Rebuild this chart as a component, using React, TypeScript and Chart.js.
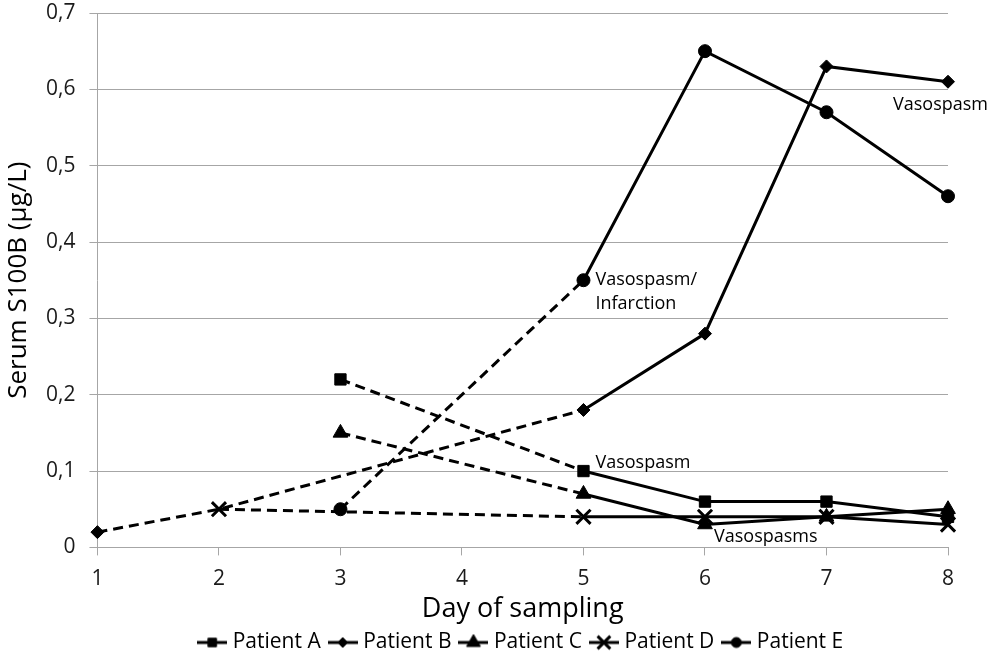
import { useEffect, useRef } from 'react'
import { Chart, registerables } from 'chart.js'
import { drawPoint } from 'chart.js/helpers'

Chart.register(...registerables)

const days = ['1', '2', '3', '4', '5', '6', '7', '8']
const patientA = [null, null, 0.22, null, 0.1, 0.06, 0.06, 0.04]
const patientB = [0.02, 0.05, null, null, 0.18, 0.28, 0.63, 0.61]
const patientC = [null, null, 0.15, null, 0.07, 0.03, 0.04, 0.05]
const patientD = [null, 0.05, null, null, 0.04, 0.04, 0.04, 0.03]
const patientE = [null, null, 0.05, null, 0.35, 0.65, 0.57, 0.46]
const patientNames = ['Patient A', 'Patient B', 'Patient C', 'Patient D', 'Patient E']
const series = [patientA, patientB, patientC, patientD, patientE]

// first day that is joined by a solid line
const solidFromDay = '5'

// clinical notes next to points
const notes = [
  { patient: 1, day: '8', lines: ['Vasospasm'] },
  { patient: 4, day: '5', lines: ['Vasospasm/', 'Infarction'] },
  { patient: 0, day: '5', lines: ['Vasospasm'] },
  { patient: 2, day: '6', lines: ['Vasospasms'] },
]

const FONT = '"Open Sans", sans-serif'
const markers = [
  { style: 'rect', radius: 8, border: 1, legendRadius: 6 },
  { style: 'rectRot', radius: 6.5, border: 1, legendRadius: 5 },
  { style: 'triangle', radius: 8.5, border: 1, legendRadius: 8 },
  { style: 'crossRot', radius: 10, border: 3, legendRadius: 9 },
  { style: 'circle', radius: 6.5, border: 1, legendRadius: 5 },
]
// label offsets from the anchor point, same order as notes
const noteOffsets = [
  { dx: -55, dy: 23 },
  { dx: 12, dy: 0 },
  { dx: 12, dy: -8 },
  { dx: 9, dy: 12 },
]

const fmt = (v: number) => (v === 0 ? '0' : v.toFixed(1).replace('.', ','))

function legendIcon(i: number) {
  const c = document.createElement('canvas')
  c.width = 30
  c.height = 20
  const g = c.getContext('2d')!
  g.strokeStyle = '#000'
  g.fillStyle = '#000'
  g.lineWidth = 3
  g.beginPath()
  g.moveTo(0, 10)
  g.lineTo(30, 10)
  g.stroke()
  const m = markers[i]
  g.lineWidth = m.border
  drawPoint(g, { pointStyle: m.style as any, radius: m.legendRadius, borderWidth: m.border, rotation: 0 }, 15, 10)
  return c
}

const notesPlugin = {
  id: 'notes',
  afterDatasetsDraw(chart: Chart) {
    const { ctx } = chart
    const x = chart.scales.x
    const y = chart.scales.y
    ctx.save()
    ctx.font = `18px ${FONT}`
    ctx.fillStyle = '#000'
    ctx.textBaseline = 'middle'
    ctx.textAlign = 'left'
    notes.forEach((n, k) => {
      const i = days.indexOf(n.day)
      const v = series[n.patient][i] as number
      const px = x.getPixelForValue(i)
      const py = y.getPixelForValue(v)
      const off = noteOffsets[k]
      n.lines.forEach((t, j) => ctx.fillText(t, px + off.dx, py + off.dy + j * 24))
    })
    ctx.restore()
  },
}

export default function App() {
  const canvasRef = useRef<HTMLCanvasElement>(null)
  const chartRef = useRef<Chart | null>(null)

  useEffect(() => {
    document.body.style.margin = '0'
    if (!canvasRef.current) return
    if (chartRef.current) chartRef.current.destroy()

    const solidIdx = days.indexOf(solidFromDay)
    const icons = patientNames.map((_, i) => legendIcon(i))

    chartRef.current = new Chart(canvasRef.current, {
      type: 'line',
      data: {
        labels: days,
        datasets: series.map((data, i) => ({
          label: patientNames[i],
          data,
          borderColor: '#000',
          backgroundColor: '#000',
          borderWidth: 3,
          spanGaps: true,
          tension: 0,
          fill: false,
          pointStyle: markers[i].style as any,
          pointRadius: (ctx: any) => (i === 1 && ctx.dataIndex === 1 ? 0 : markers[i].radius),
          pointBorderWidth: markers[i].border,
          pointBorderColor: '#000',
          pointBackgroundColor: '#000',
          segment: {
            borderDash: (ctx: any) => (ctx.p1DataIndex <= solidIdx ? [10, 6] : undefined),
          },
        })),
      },
      plugins: [notesPlugin],
      options: {
        responsive: true,
        maintainAspectRatio: false,
        animation: false,
        layout: { padding: { top: 13, right: 44, left: 2, bottom: -6 } },
        plugins: {
          tooltip: { enabled: false },
          legend: {
            position: 'bottom',
            fullSize: false,
            labels: {
              usePointStyle: true,
              pointStyleWidth: 20,
              padding: 12,
              color: '#000',
              font: { size: 21, family: FONT },
              generateLabels: () =>
                patientNames.map((name, i) => ({
                  text: name,
                  pointStyle: icons[i],
                  fillStyle: '#000',
                  strokeStyle: '#000',
                  lineWidth: 0,
                  hidden: false,
                  datasetIndex: i,
                })),
            },
          },
        },
        scales: {
          x: {
            grid: { drawOnChartArea: false, drawTicks: true, tickLength: 8, color: '#a6a6a6' },
            border: { display: true, color: '#a6a6a6' },
            ticks: { color: '#1a1a1a', font: { size: 21, family: FONT, lineHeight: 1 }, padding: 13 },
            title: {
              display: true,
              text: 'Day of sampling',
              color: '#000',
              font: { size: 27, family: FONT, lineHeight: 0.8 },
              padding: { top: -4, bottom: 0 },
            },
          },
          y: {
            min: 0,
            max: 0.7,
            afterFit: (scale: any) => {
              scale.paddingTop = 0
            },
            grid: { color: '#a6a6a6', tickLength: 8, lineWidth: 1 },
            border: { display: true, color: '#a6a6a6' },
            ticks: {
              stepSize: 0.1,
              color: '#1a1a1a',
              font: { size: 21, family: FONT },
              padding: 14,
              callback: (v: any) => fmt(Number(v)),
            },
            title: {
              display: true,
              text: 'Serum S100B (µg/L)',
              color: '#000',
              font: { size: 26, family: FONT, lineHeight: 1 },
              padding: { top: 4, bottom: 0 },
            },
          },
        },
      },
    })

    return () => {
      chartRef.current?.destroy()
    }
  }, [])

  return (
    <div style={{ width: 992, height: 657, position: 'relative', background: '#fff' }}>
      <canvas ref={canvasRef} />
    </div>
  )
}
